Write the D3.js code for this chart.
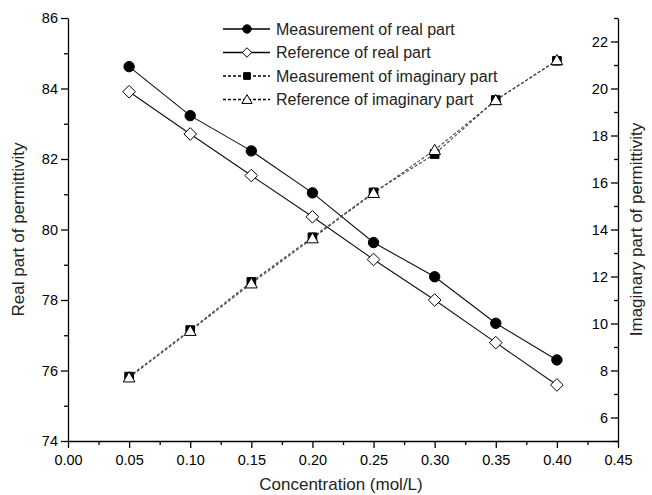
<!DOCTYPE html>
<html>
<head>
<meta charset="utf-8">
<script src="https://cdn.jsdelivr.net/npm/d3@7"></script>
<style>
  body { margin: 0; background: #fff; }
  svg { font-family: "Liberation Sans", Arial, sans-serif; }
</style>
</head>
<body>
<div id="chart"></div>
<script>
// data
const conc = [0.05, 0.10, 0.15, 0.20, 0.25, 0.30, 0.35, 0.40];
const realMeas = [84.62, 83.23, 82.23, 81.04, 79.63, 78.66, 77.34, 76.30];
const realRef = [83.91, 82.71, 81.53, 80.36, 79.15, 78.00, 76.79, 75.59];
const imagMeas = [7.74, 9.72, 11.77, 13.67, 15.58, 17.21, 19.51, 21.18];
const imagRef = [7.70, 9.68, 11.70, 13.62, 15.55, 17.38, 19.50, 21.20];
const xTicks = [0, 0.05, 0.10, 0.15, 0.20, 0.25, 0.30, 0.35, 0.40, 0.45];
const leftTicks = [74, 76, 78, 80, 82, 84, 86];
const rightTicks = [6, 8, 10, 12, 14, 16, 18, 20, 22];
const legendLabels = ["Measurement of real part", "Reference of real part",
  "Measurement of imaginary part", "Reference of imaginary part"];

const width = 652, height = 495;
const margin = {left: 68, right: 34, top: 18, bottom: 54};

const svg = d3.select("#chart").append("svg")
  .attr("width", width)
  .attr("height", height);

const x = d3.scaleLinear().domain([0, 0.45]).range([margin.left, width - margin.right]);
const yL = d3.scaleLinear().domain([74, 86]).range([height - margin.bottom, margin.top]);
const yR = d3.scaleLinear().domain([5, 23]).range([height - margin.bottom, margin.top]);

// axes
const xAxis = svg.append("g")
  .attr("transform", `translate(0,${height - margin.bottom})`)
  .call(d3.axisBottom(x).tickValues(xTicks).tickFormat(d3.format(".2f")).tickSize(7).tickSizeOuter(0));
svg.append("g")
  .attr("transform", `translate(0,${height - margin.bottom})`)
  .call(d3.axisBottom(x).tickValues(d3.range(0.025, 0.45, 0.05)).tickFormat("").tickSize(4).tickSizeOuter(0))
  .select(".domain").remove();

const lAxis = svg.append("g")
  .attr("transform", `translate(${margin.left},0)`)
  .call(d3.axisLeft(yL).tickValues(leftTicks).tickSize(7).tickSizeOuter(0));
svg.append("g")
  .attr("transform", `translate(${margin.left},0)`)
  .call(d3.axisLeft(yL).tickValues(d3.range(75, 86, 2)).tickFormat("").tickSize(4).tickSizeOuter(0))
  .select(".domain").remove();

// right axis: ticks and labels point inward
const rAxis = svg.append("g")
  .attr("transform", `translate(${width - margin.right},0)`)
  .call(d3.axisLeft(yR).tickValues(rightTicks).tickSize(7).tickSizeOuter(0));
svg.append("g")
  .attr("transform", `translate(${width - margin.right},0)`)
  .call(d3.axisLeft(yR).tickValues(d3.range(5, 24, 2)).tickFormat("").tickSize(4).tickSizeOuter(0))
  .select(".domain").remove();

svg.selectAll(".domain, .tick line").attr("stroke", "#000").attr("stroke-width", 1.3);
svg.selectAll(".tick text").attr("font-size", 14.5).attr("fill", "#000")
  .attr("font-family", "Liberation Sans, Arial, sans-serif");
xAxis.selectAll(".tick text").attr("dy", "0.95em");
lAxis.selectAll(".tick text").attr("x", -10);
rAxis.selectAll(".tick text").attr("x", -10);

// axis titles
svg.append("text")
  .attr("x", (margin.left + width - margin.right) / 2 - 2)
  .attr("y", 490)
  .attr("text-anchor", "middle")
  .attr("font-size", 17)
  .attr("fill", "#222")
  .text("Concentration (mol/L)");
svg.append("text")
  .attr("transform", `translate(24,${(margin.top + height - margin.bottom) / 2}) rotate(-90)`)
  .attr("text-anchor", "middle")
  .attr("font-size", 17)
  .attr("fill", "#222")
  .text("Real part of permittivity");
svg.append("text")
  .attr("transform", `translate(642,${(margin.top + height - margin.bottom) / 2}) rotate(-90)`)
  .attr("text-anchor", "middle")
  .attr("font-size", 17)
  .attr("fill", "#222")
  .text("Imaginary part of permittivity");

// series
const series = [
  {vals: realMeas, y: yL, dash: null, marker: "circle", fill: "#000"},
  {vals: realRef, y: yL, dash: null, marker: "diamond", fill: "#fff"},
  {vals: imagMeas, y: yR, dash: "3,2", marker: "square", fill: "#000"},
  {vals: imagRef, y: yR, dash: "3,2", marker: "triangle", fill: "#fff"}
];

// rotated square, as wide as it is tall
const wideDiamond = {
  draw(ctx, size) {
    const r = Math.sqrt(size / 2);
    ctx.moveTo(0, -r); ctx.lineTo(r, 0); ctx.lineTo(0, r); ctx.lineTo(-r, 0); ctx.closePath();
  }
};

const symbols = {
  circle: d3.symbol().type(d3.symbolCircle).size(85),
  diamond: d3.symbol().type(wideDiamond).size(80),
  square: d3.symbol().type(d3.symbolSquare).size(75),
  triangle: d3.symbol().type(d3.symbolTriangle).size(60)
};

series.forEach(s => {
  const line = d3.line().x((d, i) => x(conc[i])).y(d => s.y(d));
  svg.append("path")
    .datum(s.vals)
    .attr("d", line)
    .attr("fill", "none")
    .attr("stroke", s.dash ? "#444" : "#111")
    .attr("stroke-width", 1.1)
    .attr("stroke-dasharray", s.dash);
});

series.forEach(s => {
  svg.selectAll(null)
    .data(s.vals)
    .enter()
    .append("path")
    .attr("transform", (d, i) => `translate(${x(conc[i])},${s.y(d) + (s.marker == "triangle" ? 1 : 0)})`)
    .attr("d", symbols[s.marker]())
    .attr("fill", s.fill)
    .attr("stroke", "#000")
    .attr("stroke-width", 1);
});

// legend
const leg = svg.append("g").attr("transform", "translate(223,29)");
series.forEach((s, i) => {
  const g = leg.append("g").attr("transform", `translate(0,${i * 23.5})`);
  g.append("line")
    .attr("x1", 0).attr("x2", 47)
    .attr("stroke", "#000").attr("stroke-width", 1.6)
    .attr("stroke-dasharray", s.dash);
  g.append("path")
    .attr("transform", `translate(24,${s.marker == "triangle" ? 1 : 0})`)
    .attr("d", symbols[s.marker].size(s.marker == "circle" ? 55 : 45)())
    .attr("fill", s.fill)
    .attr("stroke", "#000");
  g.append("text")
    .attr("x", 53)
    .attr("y", 5.5)
    .attr("font-size", 16)
    .attr("fill", "#222")
    .text(legendLabels[i]);
});
</script>
</body>
</html>
